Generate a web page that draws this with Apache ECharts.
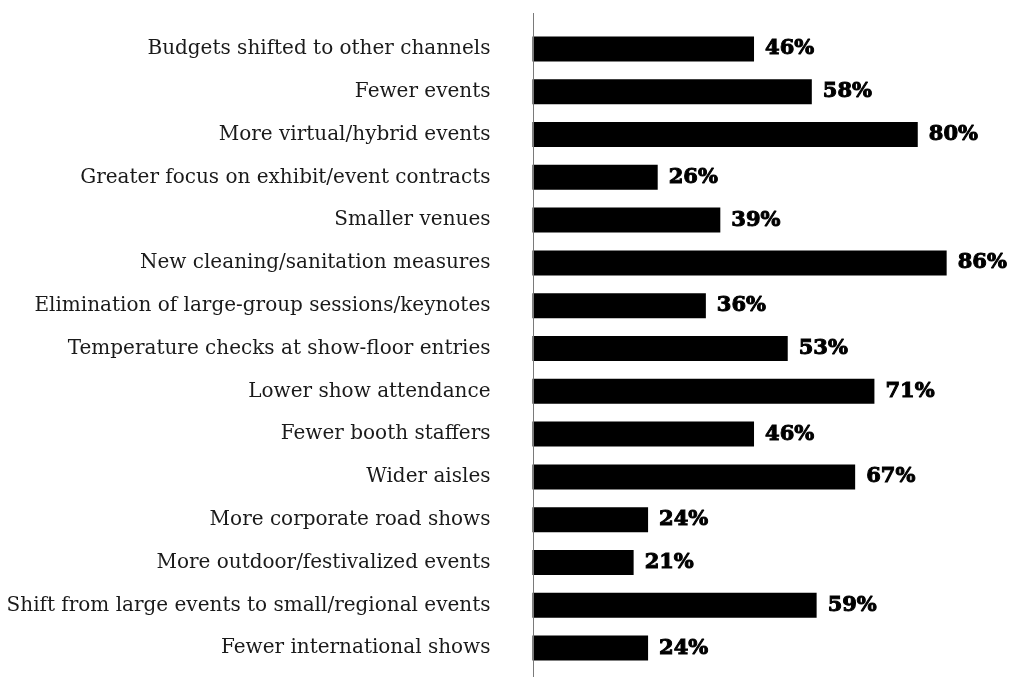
<!DOCTYPE html>
<html>
<head>
<meta charset="utf-8">
<script src="https://cdn.jsdelivr.net/npm/echarts@6/dist/echarts.min.js"></script>
<style>
  html, body { margin: 0; padding: 0; background: #ffffff; }
  #chart { width: 1010px; height: 677px; }
</style>
</head>
<body>
<div id="chart"></div>
<script>
// Expected changes to trade shows and events (share of respondents)
const categories = [
  "Budgets shifted to other channels",
  "Fewer events",
  "More virtual/hybrid events",
  "Greater focus on exhibit/event contracts",
  "Smaller venues",
  "New cleaning/sanitation measures",
  "Elimination of large-group sessions/keynotes",
  "Temperature checks at show-floor entries",
  "Lower show attendance",
  "Fewer booth staffers",
  "Wider aisles",
  "More corporate road shows",
  "More outdoor/festivalized events",
  "Shift from large events to small/regional events",
  "Fewer international shows"
];
const shares = [46, 58, 80, 26, 39, 86, 36, 53, 71, 46, 67, 24, 21, 59, 24];

const chart = echarts.init(document.getElementById('chart'), null, { renderer: 'canvas' });

chart.setOption({
  animation: false,
  backgroundColor: '#ffffff',
  grid: { left: 532.5, right: 20, top: 27.5, bottom: 7.5, containLabel: false },
  xAxis: {
    type: 'value',
    min: 0,
    max: 95,
    show: false
  },
  yAxis: {
    type: 'category',
    data: categories,
    inverse: true,
    axisLine: { show: false },
    axisTick: { show: false },
    splitLine: { show: false },
    axisLabel: {
      margin: 42,
      color: '#1a1a1a',
      fontFamily: 'DejaVu Serif',
      fontSize: 20
    }
  },
  series: [{
    type: 'bar',
    data: shares,
    barWidth: 25,
    itemStyle: { color: '#000000' },
    label: {
      show: true,
      position: 'right',
      distance: 11,
      formatter: p => p.value + '%',
      color: '#000000',
      fontFamily: 'DejaVu Serif',
      fontWeight: 'bold',
      fontSize: 21,
      textBorderColor: '#000000',
      textBorderWidth: 1
    }
  }]
});

// Vertical baseline at zero, running the full height of the plot
const x0 = Math.round(chart.convertToPixel({ xAxisIndex: 0 }, 0)) + 0.5;
chart.setOption({
  graphic: [{
    type: 'line',
    shape: { x1: x0, y1: 13, x2: x0, y2: 677 },
    style: { stroke: '#7a7a7a', lineWidth: 1 },
    z: 10
  }]
});
</script>
</body>
</html>
